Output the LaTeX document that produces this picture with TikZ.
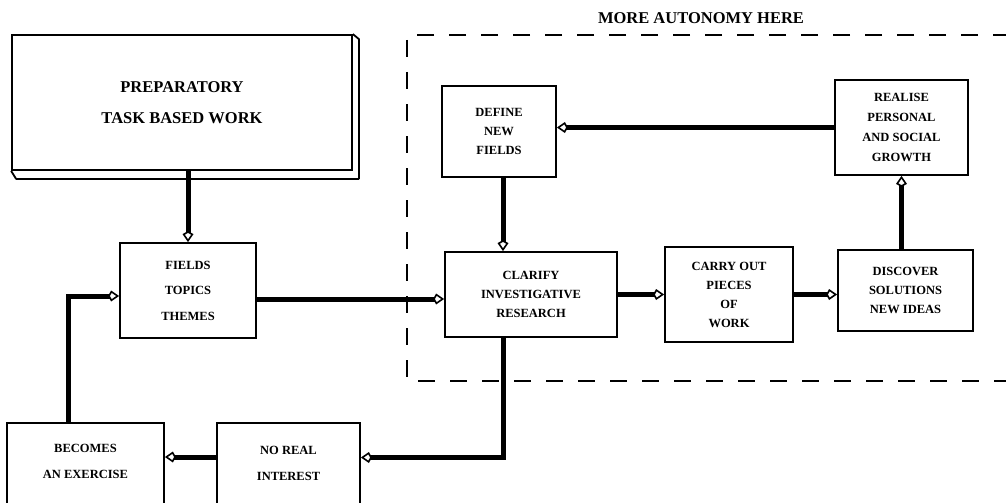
\documentclass[tikz,border=0pt]{standalone}
\usepackage{fontspec}
\setmainfont{Liberation Serif}
\usetikzlibrary{arrows.meta}
\tikzset{
  boxnode/.style={draw, line width=1.8pt, inner sep=0pt, align=center,
    font=\bfseries\fontsize{12.5}{19}\selectfont},
  txtnode/.style={inner sep=0pt, align=center, font=\bfseries\fontsize{12.5}{26}\selectfont},
  conn/.style={line width=5pt, -{Kite[fill=white, length=11pt, width=11pt, inset=3pt, line width=1.6pt]}},
  zone/.style={line width=2pt, dash pattern=on 17pt off 15pt}
}
\begin{document}
\begin{tikzpicture}[x=1pt, y=-1pt]
\useasboundingbox (0,0) rectangle (1006,503);
\clip (0,0) rectangle (1006,503);

% title
\node[inner sep=0pt, font=\bfseries\fontsize{16.5}{20}\selectfont] (title) at (701,18) {MORE AUTONOMY HERE};

% dashed zone
\draw[zone] (1010,35) -- (407,35) -- (407,381) -- (1010,381);

% preparatory 3D box
\node[draw, line width=1.8pt, minimum width=340pt, minimum height=135pt, inner sep=0pt,
  align=center, font=\bfseries\fontsize{16.5}{31.5}\selectfont] (prep) at (182,102.5)
  {PREPARATORY\\TASK BASED WORK};
\draw[line width=1.8pt, line join=round] (prep.north east) -- ++(6,5) |- ([shift={(5,8)}]prep.south west) -- (prep.south west);

% boxes
\node[boxnode, minimum width=136pt, minimum height=95pt, font=\bfseries\fontsize{12.5}{25.5}\selectfont] (fields) at (188,290.5) {FIELDS\\TOPICS\\THEMES};
\node[boxnode, minimum width=114pt, minimum height=91pt] (define) at (499,131.5) {DEFINE\\NEW\\FIELDS};
\node[boxnode, minimum width=133pt, minimum height=95pt, font=\bfseries\fontsize{12.5}{19.8}\selectfont] (realise) at (901.5,127.5) {REALISE\\PERSONAL\\AND SOCIAL\\GROWTH};
\node[boxnode, minimum width=172pt, minimum height=85pt] (clarify) at (531,294.5) {CLARIFY\\INVESTIGATIVE\\RESEARCH};
\node[boxnode, minimum width=128pt, minimum height=95pt] (carry) at (729,294.5) {CARRY OUT\\PIECES\\OF\\WORK};
\node[boxnode, minimum width=135pt, minimum height=81pt] (discover) at (905.5,290.5) {DISCOVER\\SOLUTIONS\\NEW IDEAS};
\node[boxnode, minimum width=157pt, minimum height=95pt, anchor=north] (becomes) at (85.5,422) {};
\node[txtnode] (becomestxt) at (85.5,461) {BECOMES\\AN EXERCISE};
\node[boxnode, minimum width=143pt, minimum height=95pt, anchor=north] (noreal) at (288.5,422) {};
\node[txtnode] (norealtxt) at (288.5,463) {NO REAL\\INTEREST};

% connectors
\draw[conn] (fields.north |- prep.south) -- (fields.north);
\draw[conn] (fields.east |- 0,299) -- (clarify.west |- 0,299);
\draw[conn] (realise.west) -- (define.east |- realise.west);
\draw[conn] ([xshift=4pt]define.south) -- ([xshift=4pt]define.south |- clarify.north);
\draw[conn] (clarify.east) -- (carry.west |- clarify.east);
\draw[conn] (carry.east) -- (discover.west |- carry.east);
\draw[conn] (realise.south |- discover.north) -- (realise.south);
\draw[conn] ([xshift=4pt]define.south |- clarify.south) |- (noreal.east |- 0,457.5);
\draw[conn] (noreal.west |- 0,457) -- (becomes.east |- 0,457);
\draw[conn] ([xshift=-17.5pt]becomes.north) |- (fields.west |- 0,296);
\end{tikzpicture}
\end{document}
